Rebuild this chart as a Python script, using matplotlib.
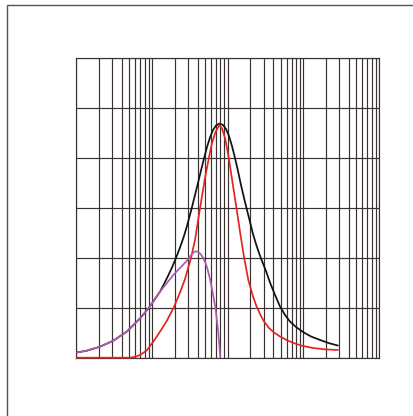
import matplotlib
matplotlib.use("Agg")
import matplotlib.pyplot as plt
from matplotlib.lines import Line2D
from matplotlib.ticker import LogLocator, NullFormatter, MultipleLocator

# Data (log x axis, 1 .. 10^4; y axis 0 .. 6)
black_x = [1, 1.372, 2.057, 3.083, 4.634, 6.946, 9.00, 10.41, 11.65, 12.76, 14.42, 16.28,
           18.39, 20.77, 23.46, 26.10, 29.03, 33.29, 37.04, 40.58, 44.44, 49.14, 53.35,
           58.47, 64.04, 70.15, 78.05, 86.80, 95.10, 104.2, 114.1, 125.1, 137.0, 150.1,
           164.5, 180.2, 197.4, 216.3, 237.0, 259.6, 284.4, 321.2, 362.7, 422.5, 491.8,
           572.6, 666.7, 800.3, 990.1, 1263, 1662, 2184, 2916]
black_y = [0.104, 0.140, 0.220, 0.341, 0.521, 0.786, 0.990, 1.126, 1.236, 1.323, 1.477, 1.637,
           1.808, 1.998, 2.208, 2.409, 2.639, 2.980, 3.261, 3.501, 3.752, 4.016, 4.222,
           4.413, 4.563, 4.653, 4.693, 4.663, 4.583, 4.443, 4.242, 4.002, 3.741, 3.461,
           3.200, 2.960, 2.719, 2.479, 2.279, 2.098, 1.938, 1.737, 1.507, 1.257, 1.026,
           0.856, 0.725, 0.615, 0.515, 0.425, 0.355, 0.291, 0.240]

red_x = [1, 5.125, 6.150, 6.946, 8.517, 9.417, 10.41, 12.76, 15.65, 19.54, 23.46, 27.32,
         32.79, 37.04, 43.12, 50.20, 56.67, 62.12, 69.11, 78.05, 84.21, 92.25, 102.0,
         114.1, 130.9, 145.6, 164.5, 187.5, 214.3, 237.0, 273.4, 302.3, 351.8, 409.8,
         491.8, 608.4, 753.2, 960.5, 1302, 1876, 2916]
red_y = [0, 0, 0.024, 0.054, 0.144, 0.234, 0.321, 0.521, 0.735, 1.016, 1.307, 1.577,
         1.998, 2.359, 2.994, 3.601, 4.016, 4.303, 4.523, 4.663, 4.593, 4.403, 4.062,
         3.581, 2.994, 2.525, 2.018, 1.557, 1.246, 1.056, 0.846, 0.725, 0.595, 0.505,
         0.425, 0.349, 0.291, 0.240, 0.198, 0.168, 0.154]

purple_x = [1, 1.372, 2.057, 3.083, 4.634, 6.946, 9.00, 10.41, 12.76, 15.65, 19.13, 23.46,
            28.76, 31.80, 34.85, 37.60, 40.58, 43.78, 47.68, 50.97, 54.17, 58.47, 62.12,
            65.01, 69.11, 71.24, 74.56, 76.88, 78.52, 79.72]
purple_y = [0.104, 0.140, 0.220, 0.341, 0.521, 0.786, 0.990, 1.126, 1.323, 1.491, 1.657, 1.798,
            1.938, 2.028, 2.098, 2.132, 2.122, 2.078, 1.998, 1.898, 1.778, 1.577, 1.377,
            1.216, 0.990, 0.816, 0.555, 0.335, 0.154, 0]

GRID = "#3a3131"

fig = plt.figure(figsize=(4.14, 4.16), dpi=100)
fig.patch.set_facecolor("white")

# outer frame (left and top edges visible)
W, H = 414.0, 416.0
fx = 6.7 / W
fy = 1 - 5.3 / H
fig.add_artist(Line2D([fx, fx, 1.01], [-0.01, fy, fy], transform=fig.transFigure,
                      color="#5a5352", lw=1.0, solid_joinstyle="miter"))

ax = fig.add_axes([76.3 / W, 1 - 357.7 / H, (379 - 76.3) / W, (357.7 - 58.3) / H])
ax.set_xscale("log")
ax.set_xlim(1, 1e4)
ax.set_ylim(0, 6)
ax.xaxis.set_major_locator(LogLocator(base=10, numticks=10))
ax.xaxis.set_minor_locator(LogLocator(base=10, subs=range(2, 10), numticks=100))
ax.yaxis.set_major_locator(MultipleLocator(1))
ax.xaxis.set_major_formatter(NullFormatter())
ax.xaxis.set_minor_formatter(NullFormatter())
ax.yaxis.set_major_formatter(NullFormatter())
ax.tick_params(which="both", length=0)
ax.grid(True, which="both", axis="x", color=GRID, lw=0.85)
ax.grid(True, which="major", axis="y", color=GRID, lw=0.85)
ax.set_axisbelow(True)
for s in ax.spines.values():
    s.set_color(GRID)
    s.set_linewidth(0.85)

kw = dict(lw=1.25, clip_on=False, solid_joinstyle="round", solid_capstyle="butt")
ax.plot(black_x, black_y, color="#111111", zorder=3, **kw)
ax.plot(red_x, red_y, color="#e5241f", zorder=4, **kw)
ax.plot(purple_x, purple_y, color="#b25aab", zorder=5, **kw)

fig.savefig("out.png", dpi=100, facecolor="white")
